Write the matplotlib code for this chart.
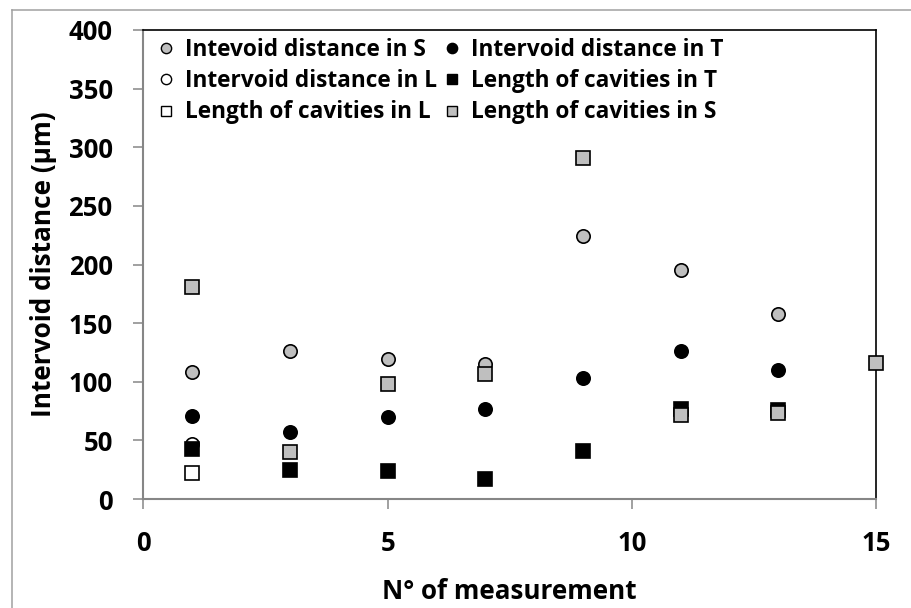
import matplotlib
matplotlib.use("Agg")
import matplotlib.pyplot as plt
from matplotlib.lines import Line2D

plt.rcParams['font.family'] = ['Open Sans', 'DejaVu Sans']
plt.rcParams['font.weight'] = 'bold'

# Measurement numbers and values (µm)
x_s_int = [1, 3, 5, 7, 9, 11, 13]
s_int = [108, 126, 119, 115, 224, 195, 158]

x_t_int = [1, 3, 5, 7, 9, 11, 13]
t_int = [71, 57, 70, 77, 103, 126, 110]

x_l_int = [1]
l_int = [47]

x_t_cav = [1, 3, 5, 7, 9, 11, 13]
t_cav = [43, 25, 24, 17, 41, 77, 76]

x_l_cav = [1]
l_cav = [22]

x_s_cav = [1, 3, 5, 7, 9, 11, 13, 15]
s_cav = [181, 40, 98, 107, 291, 72, 73, 116]

labels = ["Intevoid distance in S", "Intervoid distance in T",
          "Intervoid distance in L", "Length of cavities in T",
          "Length of cavities in L", "Length of cavities in S"]

x_ticks = [0, 5, 10, 15]
y_ticks = [0, 50, 100, 150, 200, 250, 300, 350, 400]

GRAY = "#bfbfbf"
AXGRAY = "#868686"

W, H = 912, 608
fig = plt.figure(figsize=(W / 100, H / 100), dpi=100)
fig.patch.set_facecolor("white")

# chart-area border (left and top edges)
fig.add_artist(Line2D([12 / W, 12 / W], [0, 1 - 10 / H], transform=fig.transFigure,
                      color="#a0a0a0", lw=1.1))
fig.add_artist(Line2D([12 / W, 1], [1 - 10 / H, 1 - 10 / H], transform=fig.transFigure,
                      color="#a0a0a0", lw=1.1))

left, right, top, bottom = 143.5, 876, 30, 499
ax = fig.add_axes([left / W, 1 - bottom / H, (right - left) / W, (bottom - top) / H])

ms = 9.6
ew = 1.2
series = [
    (x_s_int, s_int, 'o', GRAY),
    (x_t_int, t_int, 'o', 'black'),
    (x_l_int, l_int, 'o', 'white'),
    (x_t_cav, t_cav, 's', 'black'),
    (x_l_cav, l_cav, 's', 'white'),
    (x_s_cav, s_cav, 's', GRAY),
]
for (xs, ys, m, fc), lab in zip(series, labels):
    ax.plot(xs, ys, linestyle='none', marker=m, markersize=ms, markerfacecolor=fc,
            markeredgecolor='black', markeredgewidth=ew, clip_on=False, zorder=3)

ax.set_xlim(0, 15)
ax.set_ylim(0, 400)
ax.set_xticks(x_ticks)
ax.set_yticks(y_ticks)

for side in ("left", "bottom"):
    ax.spines[side].set_color(AXGRAY)
    ax.spines[side].set_linewidth(1.5)
for side in ("top", "right"):
    ax.spines[side].set_color("black")
    ax.spines[side].set_linewidth(1.2)

ax.tick_params(axis='both', direction='out', length=7.2, width=1.1, color=AXGRAY,
               labelsize=18.5, pad=15)
for t in ax.get_xticklabels() + ax.get_yticklabels():
    t.set_fontweight('bold')

ax.set_xlabel("N° of measurement", fontsize=18.7, fontweight='bold', labelpad=15)
ax.set_ylabel("Intervoid distance (µm)", fontsize=18.9, fontweight='bold', labelpad=8)

# legend: two columns, filled row by row
handles = []
for (xs, ys, m, fc) in series:
    handles.append(Line2D([], [], linestyle='none', marker=m, markersize=7.4,
                          markerfacecolor=fc, markeredgecolor='black', markeredgewidth=1.0))
order = [0, 2, 4, 1, 3, 5]
leg = ax.legend([handles[i] for i in order], [labels[i] for i in order], ncol=2,
                loc='upper left', bbox_to_anchor=(0.0232, 0.984), frameon=False,
                prop={'weight': 'bold', 'size': 16.3}, borderaxespad=0, borderpad=0,
                handlelength=0.5, handletextpad=0.6, columnspacing=0.4, labelspacing=0.33)

fig.savefig("out.png", dpi=100)
